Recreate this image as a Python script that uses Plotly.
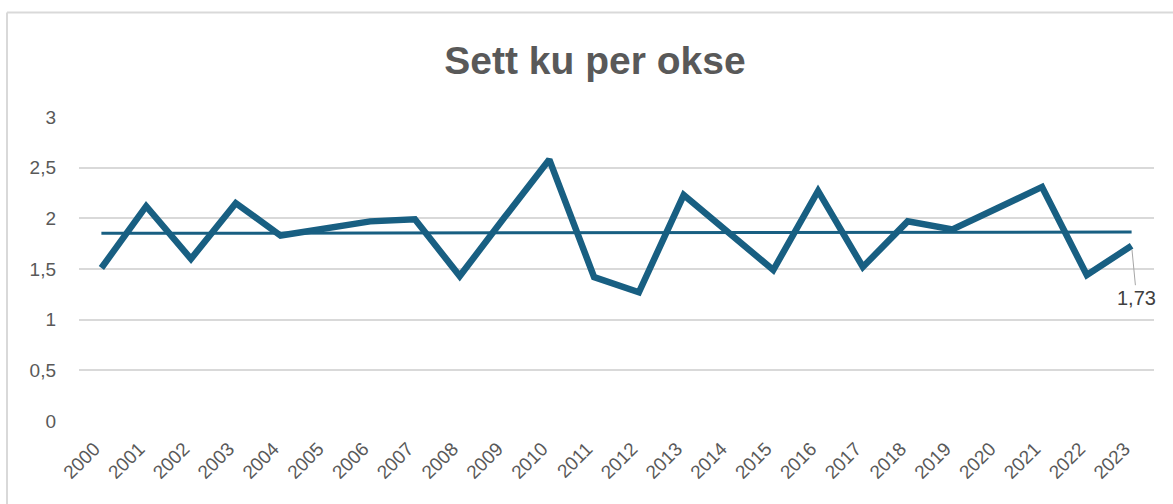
import numpy as np
import plotly.graph_objects as go

years = [str(y) for y in range(2000, 2024)]
values = [1.51, 2.12, 1.60, 2.15, 1.83, 1.90, 1.97, 1.99, 1.43, 2.01, 2.58, 1.42,
          1.27, 2.23, 1.86, 1.49, 2.27, 1.52, 1.97, 1.89, 2.10, 2.31, 1.44, 1.73]
y_ticks = [0, 0.5, 1, 1.5, 2, 2.5, 3]
y_tick_labels = ["0", "0,5", "1", "1,5", "2", "2,5", "3"]
title_text = "Sett ku per okse"
last_label = "1,73"

# Linear trendline (as Excel does) from the data
idx = np.arange(len(values))
slope, intercept = np.polyfit(idx, values, 1)
trend = list(slope * idx + intercept)

LINE = "#185F82"
GRAY = "#595959"
W, H = 1173, 504
L, R, T, B = 79, 19, 117, 83

fig = go.Figure()
fig.add_trace(go.Scatter(x=years, y=values, mode="lines",
                         line=dict(color=LINE, width=6.5), hoverinfo="x+y",
                         showlegend=False))
fig.add_trace(go.Scatter(x=years, y=trend, mode="lines",
                         line=dict(color=LINE, width=3), showlegend=False,
                         hoverinfo="skip"))

fig.add_annotation(x=len(years) - 1, y=values[-1], xref="x", yref="y",
                   text=last_label,
                   showarrow=True, arrowhead=0, arrowwidth=1, arrowcolor="#A6A6A6",
                   ax=5, ay=52, standoff=4,
                   font=dict(family="Liberation Sans, Arial", size=20, color="#404040"))

pw = W - L - R
ph = H - T - B
def px2x(p):
    return (p - L) / pw
def py2y(p):
    return (H - B - p) / ph

fig.add_shape(type="line", xref="paper", yref="paper",
              x0=px2x(7), x1=px2x(W + 5), y0=py2y(12.5), y1=py2y(12.5),
              line=dict(color="#D9D9D9", width=2))
fig.add_shape(type="line", xref="paper", yref="paper",
              x0=px2x(7), x1=px2x(7), y0=py2y(12.5), y1=py2y(H + 5),
              line=dict(color="#D9D9D9", width=2))

fig.update_layout(
    width=W, height=H,
    margin=dict(l=L, r=R, t=T, b=B),
    paper_bgcolor="white", plot_bgcolor="white",
    title=dict(text="<b>" + title_text + "</b>", x=595 / W, xanchor="center",
               y=1 - 60 / H, yanchor="middle", xref="container", yref="container",
               font=dict(family="Liberation Sans, Arial", size=39, color=GRAY)),
    xaxis=dict(type="category", range=[-0.5, len(years) - 0.5], showgrid=False,
               zeroline=False, showline=False, ticks="", tickangle=-45,
               ticklabelshift=-7, ticklabelstandoff=12,
               tickfont=dict(family="Liberation Sans, Arial", size=19, color=GRAY)),
    yaxis=dict(range=[0, 3], tickvals=y_ticks, ticktext=y_tick_labels,
               showgrid=True, gridcolor="#D9D9D9", gridwidth=1.5, zeroline=False,
               showline=False, ticks="", ticklabelstandoff=22,
               tickfont=dict(family="Liberation Sans, Arial", size=19, color=GRAY)),
    font=dict(family="Liberation Sans, Arial"),
)

fig.write_html("out.html", config={"displayModeBar": False},
               post_script="document.body.style.margin='0';document.body.style.overflow='hidden';")
